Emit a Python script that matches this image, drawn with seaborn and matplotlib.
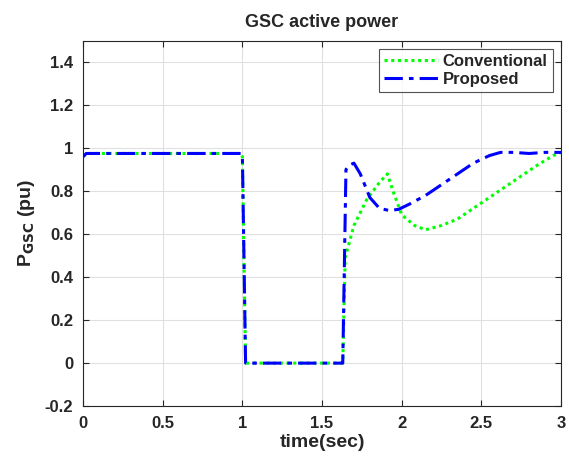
import numpy as np
import pandas as pd
import seaborn as sns
import matplotlib.pyplot as plt

# values
time_conv = [0.0, 0.02, 0.2, 0.5, 0.8, 0.99, 1.0, 1.02, 1.3, 1.62, 1.63, 1.645,
             1.70, 1.78, 1.86, 1.91, 1.95, 2.0, 2.08, 2.15, 2.25, 2.35, 2.45,
             2.55, 2.65, 2.75, 2.85, 2.95, 3.0]
p_conv = [0.96, 0.975, 0.975, 0.975, 0.975, 0.975, 0.96, 0.0, 0.0, 0.0, 0.0, 0.49,
          0.64, 0.76, 0.84, 0.88, 0.79, 0.69, 0.64, 0.62, 0.64, 0.67, 0.72,
          0.77, 0.82, 0.87, 0.92, 0.965, 0.98]

time_prop = [0.0, 0.02, 0.2, 0.5, 0.8, 0.99, 1.0, 1.02, 1.3, 1.62, 1.63, 1.65,
             1.67, 1.70, 1.74, 1.80, 1.86, 1.92, 1.98, 2.05, 2.15, 2.25, 2.35,
             2.45, 2.55, 2.62, 2.7, 2.8, 2.9, 3.0]
p_prop = [0.96, 0.975, 0.975, 0.975, 0.975, 0.975, 0.96, 0.0, 0.0, 0.0, 0.0, 0.9,
          0.92, 0.93, 0.88, 0.77, 0.72, 0.71, 0.715, 0.74, 0.78, 0.83, 0.88,
          0.93, 0.965, 0.98, 0.98, 0.975, 0.98, 0.98]

df = pd.concat([
    pd.DataFrame({'t': time_conv, 'P': p_conv, 'Method': 'Conventional'}),
    pd.DataFrame({'t': time_prop, 'P': p_prop, 'Method': 'Proposed'}),
])

sns.set_style('whitegrid')
plt.rcParams['font.family'] = ['Liberation Sans', 'DejaVu Sans']
plt.rcParams['font.weight'] = 'bold'

fig = plt.figure(figsize=(5.69, 4.61), dpi=100)
ax = fig.add_axes([0.146, 0.119, 0.84, 0.793])

sns.lineplot(data=df, x='t', y='P', hue='Method', style='Method',
             palette={'Conventional': '#00ff00', 'Proposed': '#0000ff'},
             dashes={'Conventional': (1, 1.2), 'Proposed': (6, 2, 1.5, 2)},
             linewidth=2.2, sort=False, ax=ax, legend=True)

ax.set_xlim(0, 3)
ax.set_ylim(-0.2, 1.5)
ax.set_xticks([0, 0.5, 1, 1.5, 2, 2.5, 3])
ax.set_xticklabels(['0', '0.5', '1', '1.5', '2', '2.5', '3'])
ax.set_yticks([-0.2, 0, 0.2, 0.4, 0.6, 0.8, 1, 1.2, 1.4])
ax.set_yticklabels(['-0.2', '0', '0.2', '0.4', '0.6', '0.8', '1', '1.2', '1.4'])
ax.tick_params(direction='in', length=4, labelsize=12, colors='#262626',
               top=True, right=True, bottom=True, left=True)
ax.tick_params(axis='x', pad=7)
ax.tick_params(axis='y', pad=7)
for lab in ax.get_xticklabels() + ax.get_yticklabels():
    lab.set_fontweight('bold')
ax.grid(True, color='#e0e0e0', linewidth=0.8)
for s in ax.spines.values():
    s.set_color('#262626')
    s.set_linewidth(0.8)

ax.set_title('GSC active power', fontsize=13, fontweight='bold', pad=10)
ax.set_xlabel('time(sec)', fontsize=14, fontweight='bold', labelpad=2)
ax.set_ylabel(r'P$_{\mathbf{GSC}}$ (pu)', fontsize=14, fontweight='bold', labelpad=6)

leg = ax.legend(loc='upper right', fontsize=12, frameon=True, fancybox=False,
                handlelength=3.2, borderpad=0.3, labelspacing=0.2,
                handletextpad=0.3, borderaxespad=0.5)
leg.get_frame().set_edgecolor('#262626')
leg.get_frame().set_linewidth(0.8)
for txt in leg.get_texts():
    txt.set_fontweight('bold')

plt.savefig('out.png', dpi=100)
